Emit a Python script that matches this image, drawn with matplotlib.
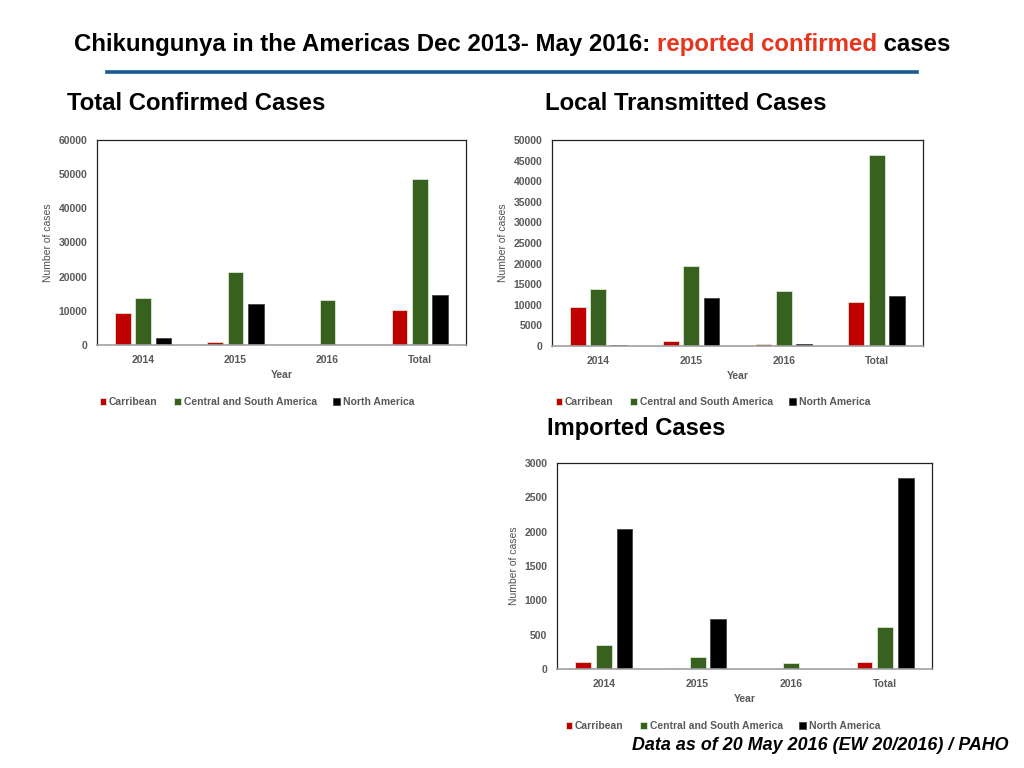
import numpy as np
import matplotlib
matplotlib.use("Agg")
from matplotlib import pyplot as plt
from matplotlib.lines import Line2D

plt.rcParams["font.family"] = ["Liberation Sans", "DejaVu Sans"]

years = ["2014", "2015", "2016", "Total"]
regions = ["Carribean", "Central and South America", "North America"]
colors = ["#c00000", "#38601e", "#000000"]

# values
total_carib = [9400, 880, 50, 10370]
total_csa = [13900, 21430, 13110, 48630]
total_na = [2050, 12130, 30, 14680]

local_carib = [9350, 1220, 400, 10650]
local_csa = [13740, 19430, 13330, 46260]
local_na = [300, 11710, 400, 12110]

imp_carib = [102, 15, 0, 102]
imp_csa = [356, 180, 88, 610]
imp_na = [2044, 732, 0, 2776]

GRAY = "#595959"


def bar_panel(fig, rect, series, ymax, ystep, legend_xy):
    ax = fig.add_axes(rect)
    x = np.arange(len(years))
    width = 0.17
    offsets = [-0.22, 0, 0.22]
    for vals, off, col, lab in zip(series, offsets, colors, regions):
        edge = "#d9ead3" if col != "#000000" else "#444444"
        ax.bar(x + off, vals, width, color=col, edgecolor=edge, linewidth=0.6, label=lab)
    ax.set_xlim(-0.5, 3.5)
    ax.set_ylim(0, ymax)
    ax.set_yticks(np.arange(0, ymax + 1, ystep))
    ax.set_xticks(x)
    ax.set_xticklabels(years)
    ax.tick_params(length=0, labelsize=7.5, labelcolor=GRAY, pad=7)
    for lbl in ax.get_xticklabels() + ax.get_yticklabels():
        lbl.set_fontweight("bold")
    for side in ["left", "top", "right"]:
        ax.spines[side].set_color("#222222")
        ax.spines[side].set_linewidth(0.9)
    ax.spines["bottom"].set_color("#a0a0a0")
    ax.spines["bottom"].set_linewidth(1.2)
    ax.set_xlabel("Year", fontsize=7.5, color=GRAY, fontweight="bold", labelpad=4)
    ax.set_ylabel("Number of cases", fontsize=7.5, color="#505050", labelpad=4)
    fig.legend(
        *ax.get_legend_handles_labels(),
        loc="center",
        bbox_to_anchor=legend_xy,
        ncol=3,
        frameon=False,
        handlelength=0.6,
        handleheight=0.6,
        handletextpad=0.3,
        columnspacing=1.6,
        labelcolor=GRAY,
        prop={"weight": "bold", "size": 7.5},
    )
    return ax


fig = plt.figure(figsize=(10.24, 7.68), dpi=100)
W, H = 1024, 768


def fx(px):
    return px / W


def fy(py):
    return 1 - py / H


bar_panel(fig, [fx(97), fy(345), fx(369), 205 / H],
          [total_carib, total_csa, total_na], 60000, 10000, (fx(257), fy(402)))
bar_panel(fig, [fx(552), fy(346), fx(371), 206 / H],
          [local_carib, local_csa, local_na], 50000, 5000, (fx(713), fy(402)))
bar_panel(fig, [fx(557), fy(669), fx(375), 206 / H],
          [imp_carib, imp_csa, imp_na], 3000, 500, (fx(723), fy(726)))

renderer = fig.canvas.get_renderer()


def fit_text(x, y, s, target_w, size, **kw):
    # scale the font so the text spans the same width as in the reference
    t = fig.text(fx(x), fy(y), s, fontsize=size, va="baseline", **kw)
    w = t.get_window_extent(renderer).width
    t.set_fontsize(size * target_w / w)
    return t


# multi-coloured title
parts = [("Chikungunya in the Americas Dec 2013- May 2016: ", "black"),
         ("reported confirmed", "#e8341c"),
         (" cases", "black")]
texts = [fig.text(0, fy(51), s, color=c, fontsize=16, fontweight="bold",
                  va="baseline", ha="left") for s, c in parts]
total_w = sum(t.get_window_extent(renderer).width for t in texts)
scale = 875 / total_w
for t in texts:
    t.set_fontsize(16 * scale)
widths = [t.get_window_extent(renderer).width for t in texts]
start = 512 - sum(widths) / 2
for t, w in zip(texts, widths):
    t.set_x(fx(start))
    start += w

fig.add_artist(Line2D([fx(107), fx(917)], [fy(72), fy(72)], color="#175a96", linewidth=2.6))

fit_text(67, 110, "Total Confirmed Cases", 258, 16, fontweight="bold")
fit_text(545, 110, "Local Transmitted Cases", 281, 16, fontweight="bold")
fit_text(547, 435, "Imported Cases", 178, 16, fontweight="bold")

fig.text(fx(1008), fy(745), "Data as of 20 May 2016 (EW 20/2016) / PAHO", fontsize=12.9,
         fontweight="bold", fontstyle="italic", ha="right", va="center")

fig.savefig("out.png", dpi=100)
